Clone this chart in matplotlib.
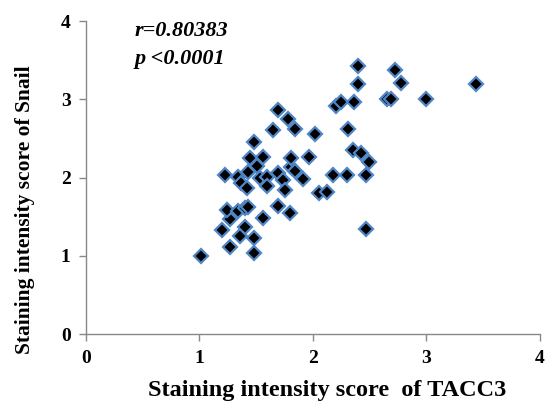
import matplotlib
matplotlib.use("Agg")
import matplotlib.pyplot as plt

# TACC3 score (x) vs Snail score (y)
tacc3 = [1.01, 1.27, 1.48, 1.20, 1.36, 1.40, 1.48, 1.27, 1.24, 1.34,
         1.40, 1.43, 1.56, 1.69, 1.80, 1.23, 1.34, 1.43, 1.37, 1.42,
         1.53, 1.60, 1.60, 1.69, 1.74, 1.81, 1.84, 1.91, 1.75, 1.51,
         1.45, 1.56, 1.81, 1.97, 1.48, 1.65, 1.84, 1.78, 1.69, 2.02,
         2.05, 2.12, 2.18, 2.30, 2.47, 2.49, 2.35, 2.42, 2.31, 2.47,
         2.20, 2.25, 2.36, 2.65, 2.69, 3.00, 2.40, 2.72, 2.40, 2.78,
         3.44]
snail = [1.00, 1.12, 1.04, 1.33, 1.25, 1.37, 1.23, 1.47, 1.59, 1.57,
         1.61, 1.63, 1.49, 1.64, 1.55, 2.04, 2.01, 2.07, 1.93, 1.87,
         1.99, 2.01, 1.89, 2.06, 1.97, 2.14, 2.08, 1.98, 1.84, 2.15,
         2.25, 2.27, 2.25, 2.26, 2.46, 2.61, 2.62, 2.75, 2.86, 2.56,
         1.81, 1.82, 2.03, 2.03, 2.03, 2.20, 2.35, 2.32, 2.62, 1.34,
         2.91, 2.96, 2.97, 3.00, 3.01, 3.01, 3.42, 3.38, 3.20, 3.21,
         3.19]

ticks = [0, 1, 2, 3, 4]

plt.rcParams['font.family'] = ['Liberation Serif', 'DejaVu Serif']

fig = plt.figure(figsize=(5.47, 4.04), dpi=100)
ax = fig.add_axes([0.157, 0.1725, 0.83, 0.7755])

ax.plot(tacc3, snail, linestyle='none', marker='D', markersize=7.5,
        markerfacecolor='black', markeredgecolor='#4f86c6', markeredgewidth=1.6)

ax.set_xlim(0, 4)
ax.set_ylim(0, 4)
ax.set_xticks(ticks)
ax.set_yticks(ticks)
ax.set_xticklabels([str(t) for t in ticks], fontsize=14, fontweight='bold')
ax.set_yticklabels([str(t) for t in ticks], fontsize=14, fontweight='bold')
ax.tick_params(direction='out', length=5, width=1, color='#888888', pad=6)

for s in ['top', 'right']:
    ax.spines[s].set_visible(False)
for s in ['left', 'bottom']:
    ax.spines[s].set_color('#888888')
    ax.spines[s].set_linewidth(1)

ax.set_xlabel('Staining intensity score  of TACC3', fontsize=17.5, fontweight='bold')
ax.set_ylabel('Staining intensity score of Snail', fontsize=15.5, fontweight='bold')
# labels sit a bit off-centre in the original
ax.xaxis.set_label_coords(0.531, -0.178)
ax.yaxis.set_label_coords(-0.134, 0.397)
ax.xaxis.label.set_va('center')
ax.yaxis.label.set_va('center')

ax.text(0.43, 3.87, 'r=0.80383', fontsize=16, fontweight='bold', style='italic', va='center')
ax.text(0.43, 3.51, 'p <0.0001', fontsize=16, fontweight='bold', style='italic', va='center')

fig.savefig('out.png', dpi=100)
